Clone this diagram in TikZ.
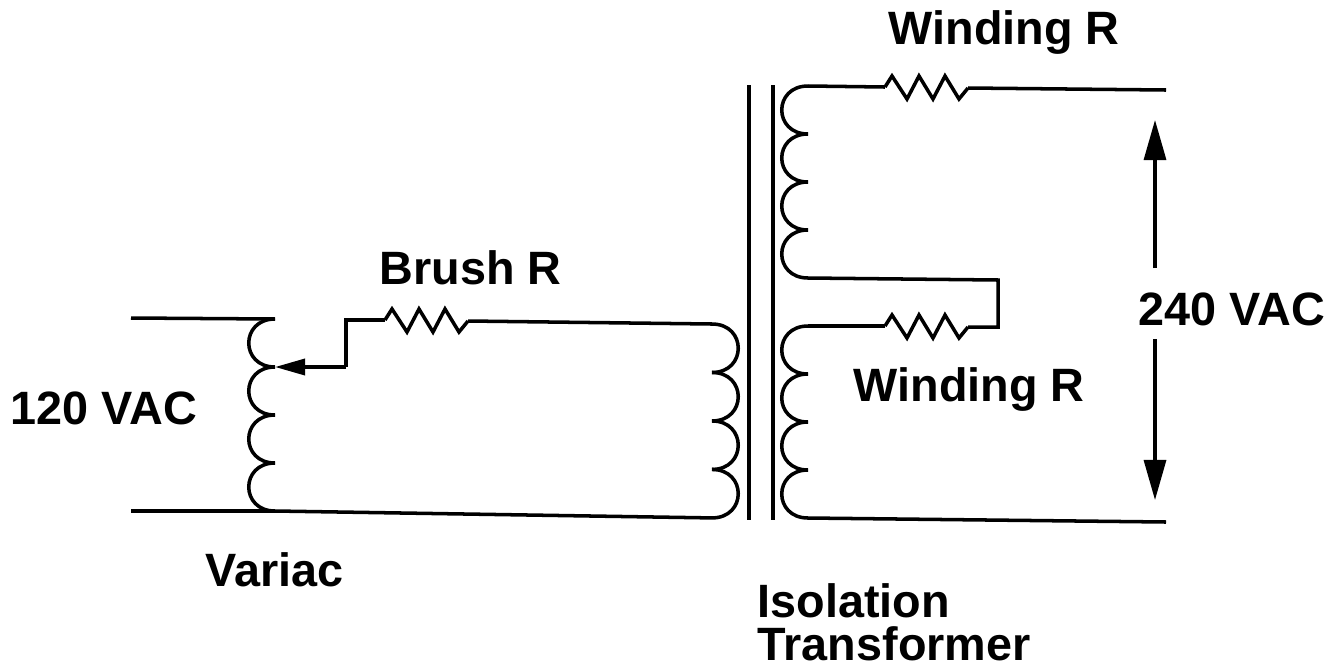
\documentclass[tikz,border=0pt]{standalone}
\usepackage{fontspec}
\setmainfont{Liberation Sans}
\usetikzlibrary{arrows.meta}
\tikzset{
	wire/.style = {draw, line width=1pt, line join=miter},
	core/.style = {draw, line width=1pt},
	voltarrow/.style = {draw, line width=0.9pt, -{Triangle[length=0.4cm, width=0.22cm]}},
	brusharrow/.style = {draw, line width=1pt, -{Triangle[length=0.3cm, width=0.16cm]}},
	tag/.style = {anchor=base west, inner sep=0pt, align=left, font=\bfseries\fontsize{13.3pt}{12.2pt}\selectfont}
}
\tikzset{%
	pics/coil/.style={code={
			\foreach \n in {0,1,2,3}{
				\draw [wire] (0,48*\n) .. controls (-35,48*\n) and (-35,48*\n+48) .. (0,48*\n+48);
			}
			\coordinate (-top) at (0,0);
			\coordinate (-tap) at (0,48);
			\coordinate (-bot) at (0,192);
		}},
	pics/zigzag/.style={code={
			\draw [wire] (0,0) -- (7,-11) -- (22,12) -- (34,-11) -- (48,12) -- (60,-11) -- (74,12) -- (83,1);
			\coordinate (-l) at (0,0);
			\coordinate (-r) at (83,1);
		}}
}
\begin{document}
\begin{tikzpicture}[x=0.01cm,y=-0.01cm]
		\useasboundingbox (0,0) rectangle (1336,666);
		\pic (variac) at (275,319) {coil};
		\pic (primary) [xscale=-1,yscale=1.01] at (712,324) {coil};
		\pic (upper) at (808,86) {coil};
		\pic (lower) at (808,326) {coil};
		\pic (brushr) at (385,320) {zigzag};
		\pic (upperr) at (885,87) {zigzag};
		\pic (lowerr) at (885,326) {zigzag};
		\coordinate (inhi) at (131,318);
		\coordinate (inlo) at (131,511);
		\coordinate (outhi) at (1166,90);
		\coordinate (outlo) at (1166,522);
		\coordinate (brusha) at (346,367);
		\coordinate (brushb) at (346,320);
		\coordinate (linka) at (998,280);
		\coordinate (linkb) at (998,327);
		\coordinate (corea) at (749,85);
		\coordinate (coreb) at (749,520);
		\coordinate (corec) at (773,85);
		\coordinate (cored) at (773,520);
		\coordinate (upt) at (1155,268);
		\coordinate (upa) at (1155,120);
		\coordinate (dnt) at (1155,339);
		\coordinate (dna) at (1155,500);
		\draw [wire] (inhi) -- (variac-top);
		\draw [wire] (inlo) -- (variac-bot);
		\draw [wire] (variac-bot) -- (primary-bot);
		\draw [brusharrow] (brusha) -- (variac-tap);
		\draw [wire] (brusha) -- (brushb) -- (brushr-l);
		\draw [wire] (brushr-r) -- (primary-top);
		\draw [core] (corea) -- (coreb);
		\draw [core, line width=1.2pt] (corec) -- (cored);
		\draw [wire] (upper-top) -- (upperr-l);
		\draw [wire] (upperr-r) -- (outhi);
		\draw [wire] (upper-bot) -- (linka) -- (linkb) -- (lowerr-r);
		\draw [wire] (lowerr-l) -- (lower-top);
		\draw [wire] (lower-bot) -- (outlo);
		\draw [voltarrow] (upt) -- (upa);
		\draw [voltarrow] (dnt) -- (dna);
		\node[tag] (wtop) at (888,44) {Winding R};
		\node[tag] (wlow) at (853,401) {Winding R};
		\node[tag] (brushtag) at (379,284) {Brush R};
		\node[tag] (vout) at (1138,325) {240 VAC};
		\node[tag] (vin) at (10,424) {120 VAC};
		\node[tag] (variactag) at (205,586) {Variac};
		\node[tag] (isotag) at (757,660) {Isolation\\Transformer};
	\end{tikzpicture}
\end{document}
